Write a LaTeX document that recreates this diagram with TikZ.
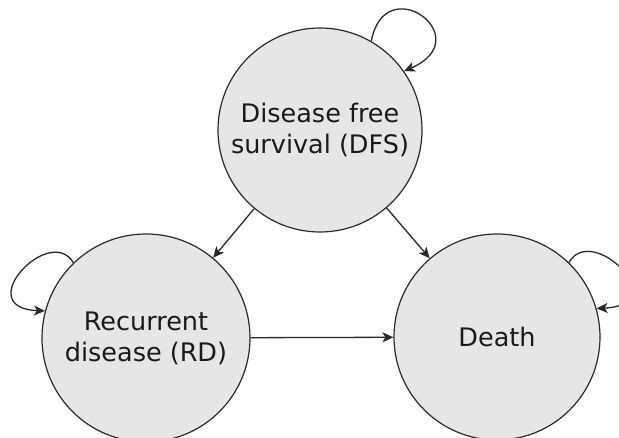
\documentclass[tikz,border=0pt]{standalone}
\usepackage{fontspec}
\setmainfont{DejaVu Sans}
\usetikzlibrary{arrows.meta}
\definecolor{statefill}{HTML}{E6E6E6}
\definecolor{lineclr}{HTML}{2A2A2A}
\definecolor{txtclr}{HTML}{1A1A1A}
\tikzset{
  state/.style={circle, draw=lineclr, line width=1.2pt, fill=statefill, inner sep=0pt,
    align=center, text=txtclr, font=\fontsize{25.5}{31}\selectfont},
  conn/.style={draw=lineclr, line width=1.3pt, -{Stealth[length=11pt,width=10pt,inset=3pt]}}
}
\begin{document}
\begin{tikzpicture}[x=1pt,y=1pt]
\useasboundingbox (0,0) rectangle (619,438);
\clip (0,0) rectangle (619,438);
\fill[white] (0,0) rectangle (619,438);
\node[state, minimum size=204pt] (DFS) at (320,308) {Disease free\\survival (DFS)};
\node[state, minimum size=208pt] (RD) at (146,100) {Recurrent\\disease (RD)};
\node[state, minimum size=206pt] (D) at (497,101) {Death};
\draw[conn] (DFS) -- (RD);
\draw[conn] (DFS) -- (D);
\draw[conn] (RD) -- (D);
\draw[conn] (DFS.60) .. controls (385,470) and (480,400) .. (DFS.35);
\draw[conn] (RD.134) .. controls (50,215) and (-30,130) .. (RD.165);
\draw[conn] (D.46) .. controls (592,216) and (675,133) .. (D.16);
\end{tikzpicture}
\end{document}
